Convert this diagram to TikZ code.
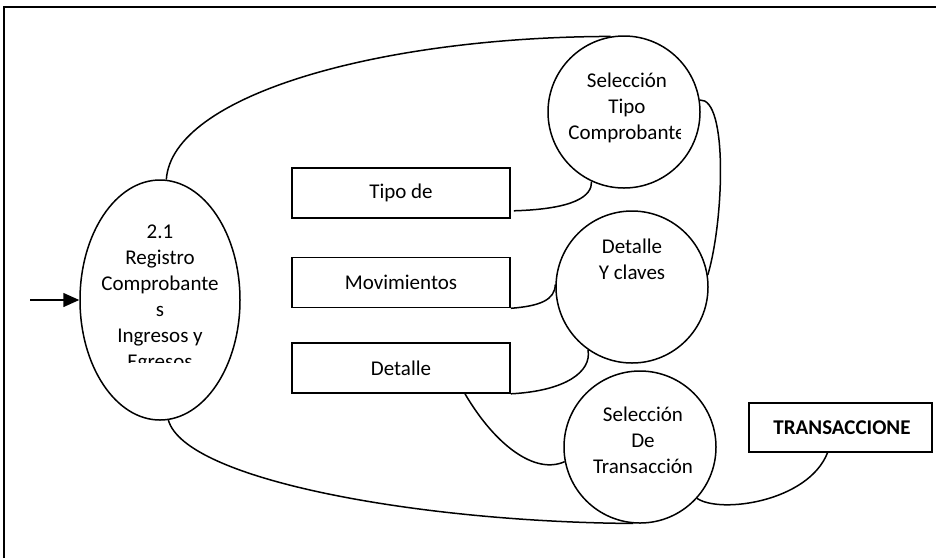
\documentclass[tikz,border=0pt]{standalone}
\usepackage{fontspec}
\setmainfont{Carlito}
\usetikzlibrary{shapes.geometric,arrows.meta}
\tikzset{
  proc/.style={draw, circle, minimum size=152pt, inner sep=0pt, line width=1.5pt},
  store/.style={draw, rectangle, minimum width=218pt, minimum height=50pt, inner sep=0pt, line width=1.6pt},
  txt/.style={align=center, inner sep=0pt, font=\fontsize{21}{26}\selectfont},
  flow/.style={line width=1.5pt}
}
\begin{document}
\begin{tikzpicture}[x=1pt,y=-1pt]
\useasboundingbox (0,0) rectangle (936,558);
\draw[line width=1.6pt] (4,558) -- (4,7) -- (936,7);
% process ellipse
\node[draw, ellipse, minimum width=160pt, minimum height=240pt, inner sep=0pt, line width=1.5pt] (el) at (160,300) {};
\begin{scope}
\clip (90,200) rectangle (230,362);
\node[txt] (elt) at (160,298) {2.1\\Registro\\Comprobante\\s\\Ingresos y\\Egresos};
\end{scope}
\coordinate (in) at (30,300);
\draw[flow, -{Triangle[length=16pt,width=14pt]}] (in) -- (el.west);
% circles
\node[proc] (c1) at (624,112) {};
\begin{scope}
\clip (550,60) rectangle (680,160);
\node[txt] (c1t) at (627,108) {Selección\\Tipo\\Comprobante};
\end{scope}
\node[proc] (c2) at (632,287) {};
\node[txt] (c2t) at (632,259.5) {Detalle\\Y claves};
\node[proc] (c3) at (640,447) {};
\node[txt] (c3t) at (643,440) {Selección\\De\\Transacción};
% stores
\node[store] (b1) at (401,193) {};
\node[txt] (b1t) at (401,193) {Tipo de};
\node[store] (b2) at (401,282.5) {};
\node[txt] (b2t) at (401,282.5) {Movimientos};
\node[store] (b3) at (401,368) {};
\node[txt] (b3t) at (401,368) {Detalle};
\node[draw, rectangle, minimum width=183pt, minimum height=49pt, inner sep=0pt, line width=1.6pt] (bt) at (840.5,427.5) {};
\node[txt, font=\fontsize{21}{26}\selectfont\bfseries] (btt) at (842,428) {TRANSACCIONE};
% connectors
\draw[flow] (el.87) .. controls (172,95) and (380,37) .. (c1.100);
\draw[flow] (el.274) .. controls (185,480) and (420,522) .. (c3.265);
\draw[flow] ([xshift=3pt,yshift=8pt]b1.south east) .. controls (575,209) and (592,196) .. (c1.245);
\draw[flow] (c1.9) .. controls (728,98) and (724,220) .. (c2.9);
\draw[flow] (b2.south east) .. controls (540,306) and (555,300) .. (c2.178);
\draw[flow] (b3.south east) .. controls (565,391) and (592,372) .. (c2.235);
\draw[flow] ([xshift=64pt]b3.south) .. controls (495,445) and (535,475) .. (c3.191);
\draw[flow] (c3.318) .. controls (720,514) and (808,502) .. ([xshift=-13pt]bt.south);
\end{tikzpicture}
\end{document}
